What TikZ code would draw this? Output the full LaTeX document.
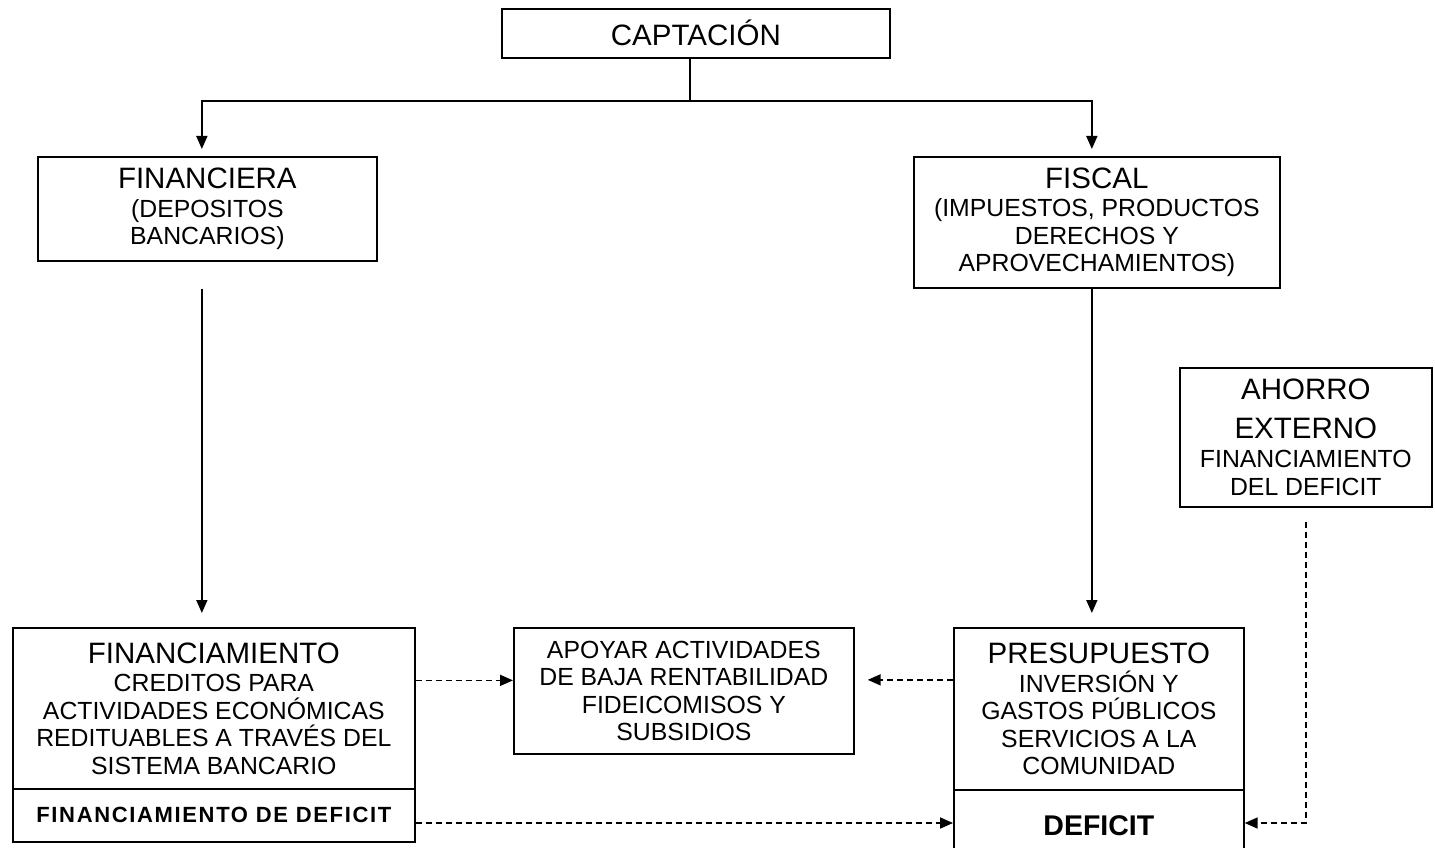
\documentclass[tikz,border=0pt]{standalone}
\usepackage{fontspec}
\setmainfont{Liberation Sans}
\usetikzlibrary{arrows.meta,calc}
\newcommand\tfont{\fontsize{29.5}{31}\selectfont}
\newcommand\sfont{\fontsize{24.8}{27.5}\selectfont}
\begin{document}
\begin{tikzpicture}[x=1pt,y=-1pt,
  box/.style={draw, line width=1.7pt, inner sep=0pt, align=center, anchor=north west, font=\sfont},
  arr/.style={line width=1.7pt, -{Triangle[length=13pt,width=11pt]}},
  darr/.style={arr, dash pattern=on 6pt off 4pt}]
\useasboundingbox (0,0) rectangle (1435,848);
\node[box, minimum width=388pt, minimum height=49pt] (capt) at (501,8) {\tfont CAPTACIÓN};
\node[box, minimum width=339pt, minimum height=104pt] (finan) at (37,156) {{\tfont FINANCIERA}\\[1pt](DEPOSITOS\\BANCARIOS)};
\node[box, minimum width=366pt, minimum height=131pt] (fisc) at (913,156) {{\tfont FISCAL}\\[1pt](IMPUESTOS, PRODUCTOS\\DERECHOS Y\\APROVECHAMIENTOS)};
\node[box, minimum width=252pt, minimum height=139pt] (ahorro) at (1179,367) {{\tfont AHORRO}\\[11pt]{\tfont EXTERNO}\\[2pt]FINANCIAMIENTO\\DEL DEFICIT};
\node[box, minimum width=402pt, minimum height=161pt] (finmto) at (12,627) {{\tfont FINANCIAMIENTO}\\[1pt]CREDITOS PARA\\ACTIVIDADES ECONÓMICAS\\REDITUABLES A TRAVÉS DEL\\SISTEMA BANCARIO};
\node[box, minimum width=402pt, minimum height=53pt] (findef) at (12,788) {\fontsize{22}{24}\selectfont\bfseries\addfontfeature{LetterSpace=7.5}FINANCIAMIENTO DE DEFICIT};
\node[box, minimum width=340pt, minimum height=126pt] (apoyar) at (513,627) {APOYAR ACTIVIDADES\\DE BAJA RENTABILIDAD\\FIDEICOMISOS Y\\SUBSIDIOS};
\node[box, minimum width=290pt, minimum height=162pt] (presup) at (953,627) {{\tfont PRESUPUESTO}\\[1pt]INVERSIÓN Y\\GASTOS PÚBLICOS\\SERVICIOS A LA\\COMUNIDAD};
\node[box, minimum width=290pt, minimum height=72pt] (deficit) at (953,789) {\fontsize{28.5}{30}\selectfont\bfseries DEFICIT};
\coordinate (split) at ([xshift=-6pt]capt.south |- 0,101);
\coordinate (dline) at (0,823);
\draw[line width=1.7pt] ([xshift=-6pt]capt.south) -- (split);
\draw[arr, shorten >=7pt] (split) -| ([xshift=-5.5pt]finan.north);
\draw[arr, shorten >=7pt] (split) -| ([xshift=-5pt]fisc.north);
\draw[arr, shorten <=27pt, shorten >=14pt] ([xshift=-5.5pt]finan.south) -- ([xshift=-5.5pt]finan.south |- finmto.north);
\draw[arr, shorten >=14pt] ([xshift=-5pt]fisc.south) -- ([xshift=-5pt]fisc.south |- presup.north);
\draw[darr] ([yshift=28pt]finmto.east) -- ([yshift=28pt]finmto.east -| apoyar.west);
\draw[darr, shorten >=13pt] ([yshift=29pt]presup.west) -- ([yshift=29pt]presup.west -| apoyar.east);
\draw[darr] (findef.east |- dline) -- (deficit.west |- dline);
\draw[darr, shorten <=14pt] (ahorro.south) -- (ahorro.south |- dline) -- (deficit.east |- dline);
\end{tikzpicture}
\end{document}
